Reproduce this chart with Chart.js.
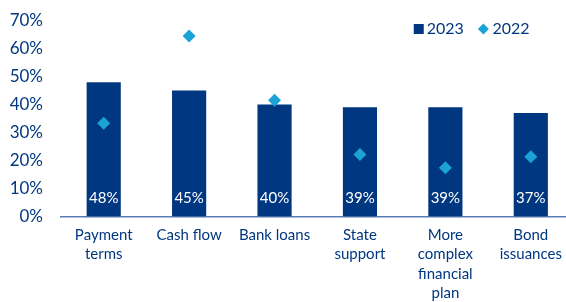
<!DOCTYPE html>
<html>
<head>
<meta charset="utf-8">
<script src="https://cdn.jsdelivr.net/npm/chart.js@4/dist/chart.umd.min.js"></script>
<style>
  html, body { margin: 0; padding: 0; background: #fff; overflow: hidden; }
  #wrap { position: relative; width: 580px; height: 312px; }
</style>
</head>
<body>
<div id="wrap"><canvas id="c"></canvas></div>
<script>
const categories = [["Payment", "terms"], "Cash flow", "Bank loans", ["State", "support"], ["More", "complex", "financial", "plan"], ["Bond", "issuances"]];
const values2023 = [48, 45, 40, 39, 39, 37];
const values2022 = [33.3, 64.5, 41.5, 22.2, 17.4, 21.4];
const yTicks = [0, 10, 20, 30, 40, 50, 60, 70];

const NAVY = '#003781';
const CYAN = '#1ba3d6';
const FONT = 'Lato, "Open Sans", sans-serif';

const barLabels = {
  id: 'barLabels',
  afterDatasetsDraw(chart) {
    const meta = chart.getDatasetMeta(0);
    const ctx = chart.ctx;
    ctx.save();
    ctx.fillStyle = '#ffffff';
    ctx.font = '15px ' + FONT;
    ctx.textAlign = 'center';
    ctx.textBaseline = 'middle';
    meta.data.forEach((bar, i) => {
      ctx.fillText(Math.round(values2023[i]) + '%', bar.x, chart.chartArea.bottom - 18);
    });
    ctx.restore();
  }
};

// simple legend drawn inside the chart area, top right
const insideLegend = {
  id: 'insideLegend',
  afterDraw(chart) {
    const ctx = chart.ctx;
    const ds = chart.data.datasets;
    ctx.save();
    ctx.font = '16px ' + FONT;
    ctx.textBaseline = 'middle';
    ctx.textAlign = 'left';
    const cy = chart.chartArea.top + 8.5;
    let x = chart.chartArea.right - 44;
    const w2 = ctx.measureText(ds[1].label).width;
    x -= w2;
    ctx.fillStyle = NAVY;
    ctx.fillText(ds[1].label, x, cy);
    const dcx = x - 9;
    ctx.fillStyle = ds[1].backgroundColor;
    ctx.beginPath();
    ctx.moveTo(dcx, cy - 5.5); ctx.lineTo(dcx + 5.5, cy); ctx.lineTo(dcx, cy + 5.5); ctx.lineTo(dcx - 5.5, cy);
    ctx.closePath(); ctx.fill();
    x = dcx - 5.5 - 14;
    const w1 = ctx.measureText(ds[0].label).width;
    x -= w1;
    ctx.fillStyle = NAVY;
    ctx.fillText(ds[0].label, x, cy);
    ctx.fillStyle = ds[0].backgroundColor;
    ctx.fillRect(x - 13, cy - 5, 10, 10);
    ctx.restore();
  }
};

new Chart(document.getElementById('c'), {
  data: {
    labels: categories,
    datasets: [
      {
        type: 'bar',
        label: '2023',
        data: values2023,
        backgroundColor: NAVY,
        borderWidth: 0,
        categoryPercentage: 1,
        barPercentage: 0.4,
        order: 2
      },
      {
        type: 'line',
        label: '2022',
        data: values2022,
        showLine: false,
        pointStyle: 'rectRot',
        pointRadius: 6.5,
        pointHoverRadius: 6.5,
        pointBackgroundColor: CYAN,
        pointBorderColor: CYAN,
        pointBorderWidth: 0,
        backgroundColor: CYAN,
        borderColor: CYAN,
        order: 1
      }
    ]
  },
  options: {
    responsive: true,
    maintainAspectRatio: false,
    animation: false,
    layout: { padding: { left: 10, right: 4.4, top: 0, bottom: 0 } },
    plugins: {
      tooltip: { enabled: false },
      legend: { display: false }
    },
    scales: {
      x: {
        grid: { display: false, drawTicks: false },
        border: { display: true, color: '#5b7db1', width: 1.5 },
        afterFit(scale) { scale.paddingLeft = 0; scale.paddingRight = 0; },
        ticks: {
          color: NAVY,
          font: { family: FONT, size: 15, lineHeight: 1.29 },
          maxRotation: 0,
          autoSkip: false,
          padding: 9
        }
      },
      y: {
        min: 0,
        max: 70,
        grid: { display: false, drawTicks: false },
        border: { display: false },
        afterBuildTicks(scale) { scale.ticks = yTicks.map(v => ({ value: v })); },
        afterFit(scale) { scale.width = 51; scale.paddingTop = 20.5; scale.paddingBottom = 0; },
        ticks: {
          color: NAVY,
          padding: 18,
          font: { family: FONT, size: 17 },
          callback: v => v + '%'
        }
      }
    }
  },
  plugins: [barLabels, insideLegend]
});
</script>
</body>
</html>
